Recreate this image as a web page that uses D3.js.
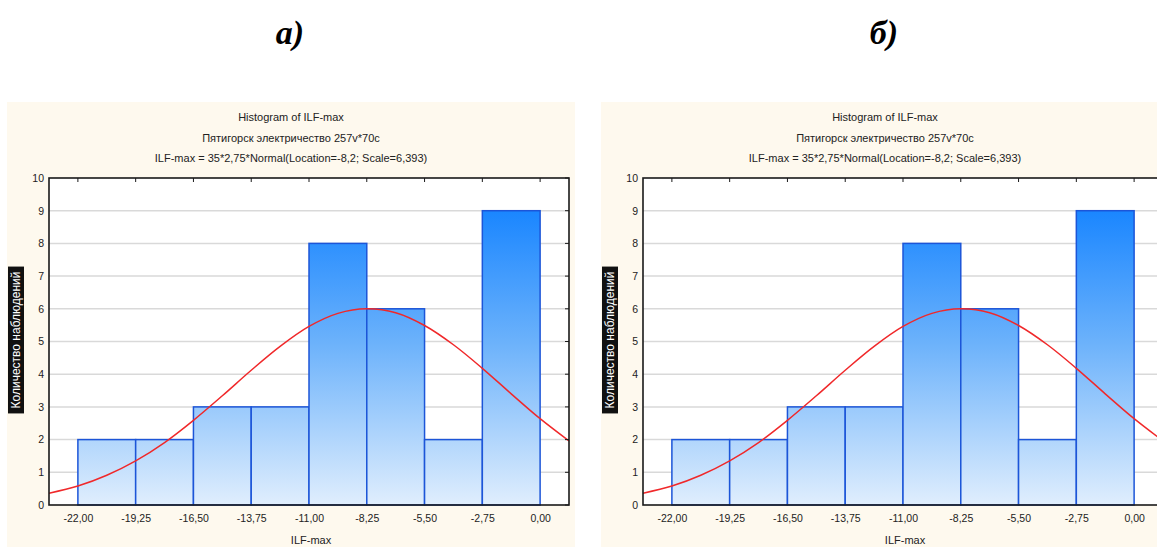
<!DOCTYPE html>
<html><head><meta charset="utf-8">
<script src="https://cdn.jsdelivr.net/npm/d3@7"></script>
<style>
html,body{margin:0;padding:0;background:#fff;}
svg{display:block;}
</style></head>
<body>
<svg id="chart" width="1157" height="547"></svg>
<script>
// ---- data ----
const panelLabels = ["а)", "б)"];
const titleLines = [
  "Histogram of ILF-max",
  "Пятигорск электричество 257v*70c",
  "ILF-max = 35*2,75*Normal(Location=-8,2; Scale=6,393)"
];
const yAxisTitle = "Количество наблюдений";
const xAxisTitle = "ILF-max";
const binEdges = [-22, -19.25, -16.5, -13.75, -11, -8.25, -5.5, -2.75, 0];
const counts = [2, 2, 3, 3, 8, 6, 2, 9];
const xDomain = [-23.375, 1.375];
const yDomain = [0, 10];
const xTicks = [-22, -19.25, -16.5, -13.75, -11, -8.25, -5.5, -2.75, 0];
const xTickLabels = ["-22,00", "-19,25", "-16,50", "-13,75", "-11,00", "-8,25", "-5,50", "-2,75", "0,00"];
const yTicks = [0, 1, 2, 3, 4, 5, 6, 7, 8, 9, 10];
// fitted normal curve
const curveX = [-23.375, -22, -20.625, -19.25, -17.875, -16.5, -15.125, -13.75, -12.375, -11, -9.625, -8.25, -6.875, -5.5, -4.125, -2.75, -1.375, 0, 1.375];
const curveY = [0.36, 0.58, 0.91, 1.35, 1.91, 2.59, 3.34, 4.12, 4.85, 5.46, 5.86, 6.0, 5.88, 5.49, 4.90, 4.18, 3.40, 2.64, 1.96];

// ---- layout ----
const svg = d3.select("#chart");
const panelOffsets = [0, 594];
const P = {bgL: 7, bgR: 575, bgT: 102, bgB: 547, left: 49, right: 569, top: 178, bottom: 505};

const defs = svg.append("defs");

panelOffsets.forEach((off, pi) => {
  const g = svg.append("g").attr("transform", `translate(${off},0)`);

  // panel letter
  svg.append("text")
    .attr("x", 290 + off).attr("y", 44)
    .attr("text-anchor", "middle")
    .style("font-family", "'Liberation Serif','Times New Roman',serif")
    .style("font-weight", "bold").style("font-style", "italic")
    .style("font-size", "34px").attr("fill", "#000")
    .text(panelLabels[pi]);

  // background
  g.append("rect").attr("x", P.bgL).attr("y", P.bgT)
    .attr("width", P.bgR - P.bgL).attr("height", P.bgB - P.bgT)
    .attr("fill", "#fef9ee");

  const x = d3.scaleLinear().domain(xDomain).range([P.left, P.right]);
  const y = d3.scaleLinear().domain(yDomain).range([P.bottom, P.top]);

  // plot area
  g.append("rect").attr("x", P.left).attr("y", P.top)
    .attr("width", P.right - P.left).attr("height", P.bottom - P.top)
    .attr("fill", "#fff");

  // clip
  const clipId = "clip" + pi;
  defs.append("clipPath").attr("id", clipId).append("rect")
    .attr("x", P.left).attr("y", P.top)
    .attr("width", P.right - P.left).attr("height", P.bottom - P.top);

  // gridlines
  g.append("g").selectAll("line").data(yTicks.filter(t => t > 0 && t < 10)).join("line")
    .attr("x1", P.left).attr("x2", P.right)
    .attr("y1", d => y(d)).attr("y2", d => y(d))
    .attr("stroke", "#d9d9d9").attr("stroke-width", 1.5);

  // gradient
  const gradId = "grad" + pi;
  const grad = defs.append("linearGradient").attr("id", gradId)
    .attr("gradientUnits", "userSpaceOnUse")
    .attr("x1", 0).attr("x2", 0).attr("y1", y(9)).attr("y2", y(0));
  grad.append("stop").attr("offset", "0%").attr("stop-color", "#1a86ff");
  grad.append("stop").attr("offset", "45%").attr("stop-color", "#6cb2fb");
  grad.append("stop").attr("offset", "100%").attr("stop-color", "#e0eefd");

  // bars
  g.append("g").selectAll("rect").data(counts).join("rect")
    .attr("x", (d, i) => x(binEdges[i]))
    .attr("width", (d, i) => x(binEdges[i + 1]) - x(binEdges[i]))
    .attr("y", d => y(d))
    .attr("height", d => y(0) - y(d))
    .attr("fill", `url(#${gradId})`)
    .attr("stroke", "#1c55d8").attr("stroke-width", 1.5);

  // normal curve
  const pts = curveX.map((cx, i) => [cx, curveY[i]]);
  g.append("path").datum(pts)
    .attr("clip-path", `url(#${clipId})`)
    .attr("d", d3.line().x(d => x(d[0])).y(d => y(d[1])).curve(d3.curveCatmullRom))
    .attr("fill", "none").attr("stroke", "#f0282a").attr("stroke-width", 1.5);

  // frame
  g.append("rect").attr("x", P.left).attr("y", P.top)
    .attr("width", P.right - P.left).attr("height", P.bottom - P.top)
    .attr("fill", "none").attr("stroke", "#1a1a1a").attr("stroke-width", 1.6);

  // top inner ticks
  g.append("g").selectAll("line").data(xTicks).join("line")
    .attr("x1", d => x(d)).attr("x2", d => x(d))
    .attr("y1", P.top).attr("y2", P.top + 4)
    .attr("stroke", "#1a1a1a").attr("stroke-width", 1);
  // right inner ticks
  g.append("g").selectAll("line").data(yTicks).join("line")
    .attr("x1", P.right - 4).attr("x2", P.right)
    .attr("y1", d => y(d)).attr("y2", d => y(d))
    .attr("stroke", "#1a1a1a").attr("stroke-width", 1);

  // axes labels via d3 axes
  const xAxis = g.append("g").attr("transform", `translate(0,${P.bottom})`)
    .call(d3.axisBottom(x).tickValues(xTicks).tickSize(0).tickPadding(10)
      .tickFormat((d, i) => xTickLabels[i]));
  xAxis.select(".domain").remove();
  xAxis.selectAll("text").style("font-family", "'Liberation Sans',Arial,sans-serif")
    .style("font-size", "10.5px").attr("fill", "#222");

  const yAxis = g.append("g").attr("transform", `translate(${P.left},0)`)
    .call(d3.axisLeft(y).tickValues(yTicks).tickSize(0).tickPadding(5).tickFormat(d3.format("d")));
  yAxis.select(".domain").remove();
  yAxis.selectAll("text").style("font-family", "'Liberation Sans',Arial,sans-serif")
    .style("font-size", "10.5px").attr("fill", "#222");

  // titles
  titleLines.forEach((t, i) => {
    g.append("text").attr("x", 291).attr("y", 121 + i * 20.5)
      .attr("text-anchor", "middle")
      .style("font-family", "'Liberation Sans',Arial,sans-serif")
      .style("font-size", "11px").attr("fill", "#222").text(t);
  });

  // x title
  g.append("text").attr("x", (P.left + P.right) / 2 + 2).attr("y", 544)
    .attr("text-anchor", "middle")
    .style("font-family", "'Liberation Sans',Arial,sans-serif")
    .style("font-size", "11px").attr("fill", "#222").text(xAxisTitle);

  // y title: white on black
  const yc = 340, xc = 16;
  const yg = g.append("g").attr("transform", `translate(${xc},${yc}) rotate(-90)`);
  const yt = yg.append("text").attr("x", 0).attr("y", 0)
    .attr("text-anchor", "middle").attr("dominant-baseline", "central")
    .style("font-family", "'Liberation Sans',Arial,sans-serif")
    .style("font-size", "12px").attr("fill", "#fff").text(yAxisTitle);
  const bb = yt.node().getBBox();
  yg.insert("rect", "text").attr("x", bb.x - 5).attr("y", -8)
    .attr("width", bb.width + 10).attr("height", 16).attr("fill", "#111");
});
</script>
</body></html>
